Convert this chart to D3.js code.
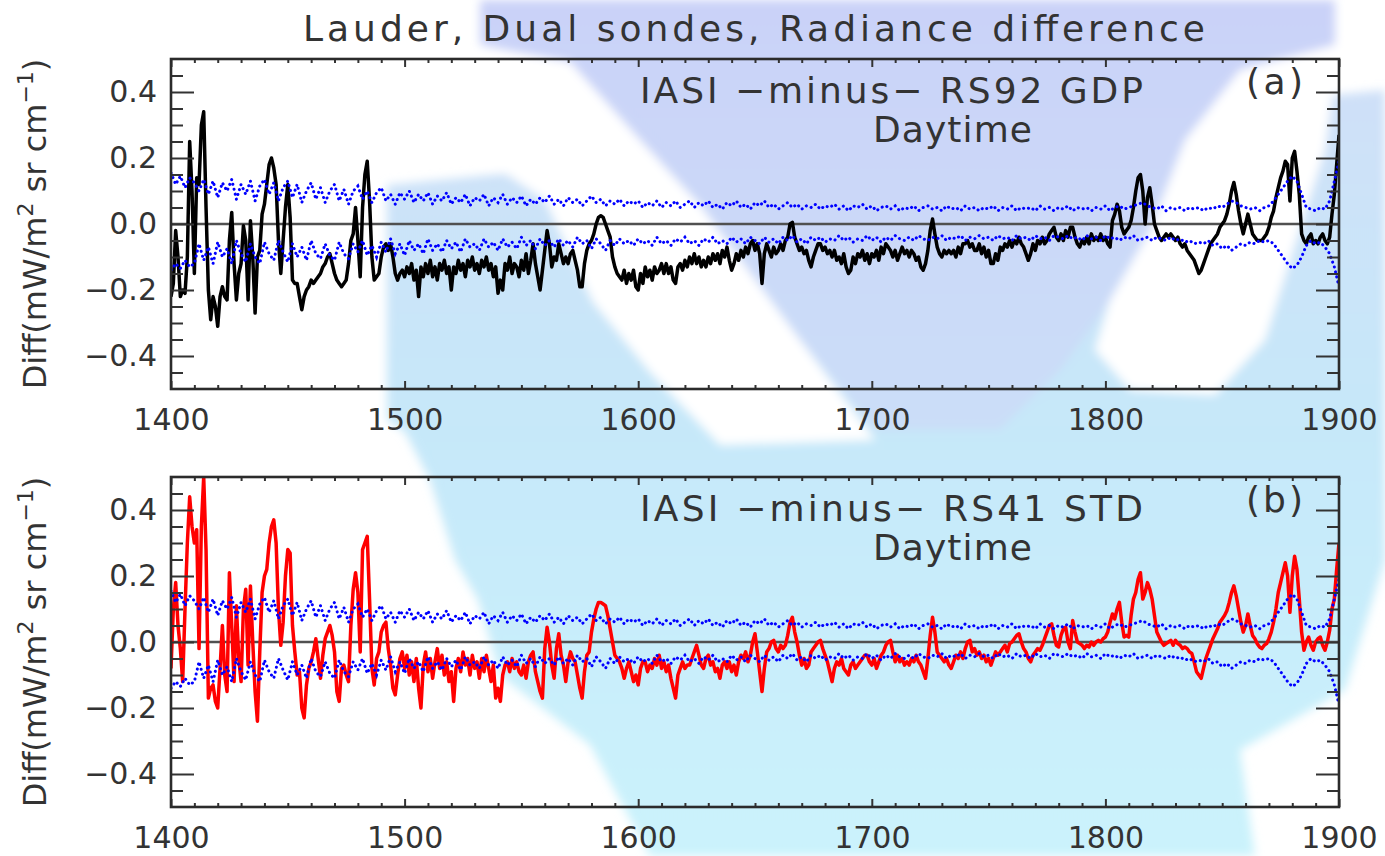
<!DOCTYPE html>
<html>
<head>
<meta charset="utf-8">
<script src="https://cdn.jsdelivr.net/npm/d3@7"></script>
<style>
  body { margin: 0; background: #fff; }
  text { font-family: "DejaVu Sans", sans-serif; fill: #333; }
</style>
</head>
<body>
<div id="chart"></div>
<script>
// wavenumber grid (cm-1): main curves every 1, uncertainty envelope every 2
var wnStart = 1400, wnEnd = 1900;

// (a) IASI minus RS92 GDP, daytime, 1 cm-1 steps from 1400
var diffRS92 = [
  -.22,-.18,-.02,-.10,-.22,-.20,-.21,-.10,.25,.10,
  -.15,.14,.12,.30,.34,.05,-.20,-.29,-.22,-.25,
  -.31,-.22,-.19,-.22,-.23,-.05,.035,-.12,-.23,-.15,
  -.12,-.005,-.05,-.23,.01,-.10,-.27,-.10,-.08,.03,
  .06,.12,.18,.20,.17,.12,-.05,-.15,-.05,.05,
  .12,.02,-.17,-.18,-.18,-.22,-.26,-.22,-.20,-.19,
  -.17,-.18,-.17,-.16,-.15,-.13,-.12,-.10,-.09,-.12,
  -.15,-.17,-.18,-.19,-.18,-.17,-.12,-.05,-.03,.05,
  -.05,-.16,.05,.15,.19,.07,-.10,-.17,-.16,-.15,
  -.10,-.07,-.06,-.08,-.06,-.10,-.15,-.17,-.15,-.14,
  -.16,-.13,-.15,-.12,-.17,-.14,-.22,-.13,-.16,-.12,
  -.15,-.11,-.16,-.13,-.17,-.12,-.14,-.11,-.15,-.13,
  -.20,-.13,-.15,-.11,-.14,-.12,-.16,-.11,-.13,-.10,
  -.14,-.12,-.15,-.11,-.13,-.10,-.14,-.12,-.16,-.13,
  -.21,-.17,-.20,-.12,-.14,-.10,-.15,-.12,-.13,-.16,
  -.11,-.14,-.09,-.15,-.11,-.06,-.12,-.16,-.20,-.14,
  -.08,-.02,-.06,-.13,-.10,-.11,-.06,-.09,-.12,-.10,
  -.12,-.09,-.08,-.11,-.14,-.19,-.19,-.12,-.08,-.06,
  -.05,-.03,.00,.02,.025,.02,.00,-.02,-.04,-.10,
  -.13,-.15,-.16,-.17,-.14,-.18,-.15,-.17,-.14,-.19,
  -.20,-.15,-.18,-.13,-.16,-.14,-.17,-.13,-.15,-.14,
  -.12,-.15,-.12,-.15,-.13,-.17,-.18,-.13,-.12,-.14,
  -.11,-.13,-.10,-.12,-.09,-.12,-.10,-.13,-.11,-.13,
  -.10,-.12,-.09,-.11,-.09,-.12,-.08,-.10,-.07,-.11,
  -.14,-.12,-.09,-.11,-.08,-.10,-.07,-.09,-.06,-.05,
  -.08,-.06,-.09,-.18,-.09,-.06,-.08,-.10,-.07,-.09,
  -.08,-.06,-.08,-.05,-.04,.00,.005,-.04,-.06,-.08,
  -.07,-.09,-.08,-.11,-.13,-.10,-.08,-.06,-.06,-.08,
  -.07,-.09,-.08,-.10,-.08,-.11,-.10,-.12,-.09,-.13,
  -.15,-.14,-.10,-.12,-.09,-.10,-.08,-.11,-.09,-.12,
  -.09,-.10,-.08,-.11,-.07,-.09,-.06,-.07,-.08,-.10,
  -.08,-.11,-.09,-.07,-.09,-.08,-.10,-.08,-.09,-.11,
  -.10,-.13,-.14,-.12,-.08,-.02,.015,-.03,-.07,-.09,
  -.10,-.08,-.09,-.08,-.09,-.08,-.10,-.07,-.09,-.06,
  -.06,-.05,-.07,-.06,-.08,-.08,-.06,-.09,-.07,-.10,
  -.08,-.12,-.12,-.09,-.11,-.07,-.08,-.06,-.07,-.05,
  -.07,-.05,-.06,-.04,-.06,-.07,-.09,-.11,-.09,-.06,
  -.08,-.05,-.06,-.04,-.06,-.05,-.03,-.02,-.01,-.04,
  -.05,-.03,-.05,-.02,-.04,-.01,-.01,-.04,-.06,-.07,
  -.05,-.06,-.04,-.06,-.03,-.05,-.04,-.05,-.03,-.05,
  -.04,-.06,-.07,.01,.03,.06,.04,-.01,-.03,-.02,
  -.01,.01,.05,.10,.14,.15,.10,.00,.08,.11,
  .06,.00,-.02,-.04,-.05,-.04,-.03,-.04,-.03,-.04,
  -.05,-.04,-.06,-.07,-.06,-.08,-.09,-.10,-.11,-.13,
  -.15,-.14,-.12,-.10,-.08,-.06,-.05,-.04,-.03,-.01,
  .00,.01,.03,.06,.10,.126,.09,.04,.00,-.03,
  .00,.03,.00,-.03,-.04,-.05,-.05,-.05,-.04,-.03,
  -.01,.02,.04,.08,.11,.14,.16,.19,.18,.07,
  .20,.22,.16,.09,-.03,-.05,-.06,-.04,-.03,-.06,
  -.05,-.06,-.04,-.03,-.05,-.06,-.04,.03,.09,.18,
  .27
];

// (b) IASI minus RS41 STD, daytime, 1 cm-1 steps from 1400
var diffRS41 = [
  -.08,.10,.18,.05,-.02,-.12,.10,.30,.44,.35,
  .30,.34,-.02,.35,.50,.28,-.17,-.14,-.13,-.18,
  -.20,-.08,.05,-.10,-.15,.21,.05,-.12,.11,-.05,
  -.12,.10,.16,-.07,.17,.00,-.15,-.24,-.03,.15,
  .20,.22,.30,.35,.37,.30,.10,-.01,.06,.20,
  .28,.27,.05,-.03,-.10,-.09,-.20,-.23,-.13,-.08,
  -.06,-.03,.01,-.05,-.11,-.04,.01,.03,.05,.02,
  -.03,-.15,-.18,-.08,-.07,-.10,-.12,.05,.16,.21,
  .15,-.03,.28,.30,.32,.13,-.08,-.13,-.05,-.03,
  .03,.05,.06,-.02,-.07,-.14,-.16,-.10,-.05,-.03,
  -.08,-.04,-.10,-.06,-.12,-.05,-.14,-.20,-.07,-.03,
  -.09,-.05,-.11,-.06,-.02,-.08,-.04,-.10,-.06,-.12,
  -.09,-.18,-.08,-.05,-.09,-.03,-.07,-.05,-.10,-.04,
  -.08,-.06,-.11,-.05,-.09,-.04,-.08,-.12,-.07,-.17,
  -.14,-.18,-.10,-.07,-.06,-.09,-.05,-.08,-.06,-.09,
  -.10,-.07,-.11,-.06,-.04,-.03,-.09,-.12,-.15,-.17,
  -.02,.045,.00,-.07,-.11,-.02,.025,-.04,-.07,-.12,
  -.06,-.03,-.05,-.06,-.10,-.14,-.17,-.09,-.04,-.03,
  .03,.07,.10,.12,.12,.115,.11,.08,.04,.00,
  -.04,-.05,-.06,-.08,-.11,-.08,-.06,-.09,-.12,-.10,
  -.13,-.08,-.06,-.06,-.09,-.07,-.08,-.05,-.07,-.04,
  -.08,-.06,-.09,-.07,-.11,-.14,-.17,-.10,-.08,-.06,
  -.08,-.07,-.07,-.05,-.03,-.01,-.04,-.07,-.08,-.05,
  -.04,-.07,-.06,-.09,-.08,-.11,-.07,-.06,-.08,-.06,
  -.09,-.07,-.10,-.06,-.04,-.05,-.03,-.06,-.04,.00,
  .025,-.03,-.09,-.15,-.08,-.03,-.02,.00,.005,-.02,
  -.03,-.01,-.02,-.01,.02,.06,.075,.03,.00,-.04,
  -.07,-.05,-.08,-.07,-.03,-.02,-.01,.00,.005,-.02,
  -.04,-.06,-.09,-.12,-.08,-.06,-.07,-.05,-.08,-.09,
  -.10,-.07,-.06,-.08,-.07,-.06,-.05,-.04,-.04,-.06,
  -.07,-.05,-.08,-.06,-.04,-.03,-.01,.00,.005,-.03,
  -.06,-.04,-.06,-.05,-.07,-.06,-.07,-.05,-.06,-.04,
  -.06,-.07,-.09,-.11,-.05,.02,.075,.03,-.03,-.04,
  -.05,-.06,-.05,-.07,-.08,-.06,-.04,-.05,-.03,-.05,
  -.02,.00,.005,-.03,-.02,-.04,-.03,-.05,-.04,-.06,
  -.05,-.07,-.05,-.03,-.04,-.03,-.02,-.01,-.03,-.005,
  .00,.01,.02,.025,.00,-.02,-.03,-.05,-.06,-.04,
  -.03,-.02,-.025,-.01,.01,.03,.05,.055,.02,-.01,
  -.015,.02,.04,.045,.00,-.02,.065,.03,.00,-.005,
  -.01,-.02,-.01,-.015,.00,-.01,.00,.005,.00,.01,
  .015,.03,.06,.085,.07,.10,.12,.06,.015,.02,
  .015,.08,.13,.15,.19,.21,.13,.15,.18,.16,
  .13,.08,.03,.015,.00,-.01,-.005,.00,.005,-.01,
  .005,-.005,-.01,-.02,-.015,-.02,-.03,-.035,-.06,-.09,
  -.10,-.11,-.08,-.05,-.03,-.01,.01,.025,.04,.06,
  .07,.08,.095,.12,.15,.17,.14,.10,.06,.03,
  .05,.085,.05,.02,.01,-.005,-.015,-.02,-.01,-.005,
  .01,.03,.06,.10,.15,.18,.21,.24,.20,.09,
  .20,.26,.22,.13,.03,-.025,.00,.015,-.01,-.025,
  .00,.01,.015,-.01,-.025,.00,.035,.10,.13,.22,
  .30
];

// uncertainty envelope (blue dotted), 2 cm-1 steps from 1400
var envUpper = [
  .155,.12,.145,.11,.14,.125,.10,.135,.09,.13,
  .08,.125,.10,.135,.075,.12,.09,.13,.07,.115,
  .135,.09,.125,.07,.11,.13,.08,.12,.065,.10,
  .125,.075,.11,.065,.10,.12,.07,.105,.06,.10,
  .115,.075,.10,.065,.095,.11,.07,.09,.06,.095,
  .075,.10,.065,.09,.07,.095,.06,.085,.07,.095,
  .06,.08,.065,.09,.055,.08,.07,.09,.055,.08,
  .065,.09,.06,.08,.065,.085,.055,.075,.06,.08,
  .065,.085,.06,.075,.055,.08,.065,.075,.055,.07,
  .085,.065,.075,.055,.07,.06,.075,.055,.07,.06,
  .07,.05,.065,.055,.07,.05,.065,.055,.07,.05,
  .06,.07,.05,.065,.055,.07,.05,.06,.045,.065,
  .055,.07,.05,.06,.045,.065,.055,.07,.05,.06,
  .045,.055,.065,.05,.06,.045,.055,.05,.06,.045,
  .055,.05,.06,.045,.055,.04,.055,.05,.06,.045,
  .055,.04,.05,.055,.045,.055,.04,.05,.045,.055,
  .04,.05,.055,.045,.05,.04,.055,.045,.05,.04,
  .055,.045,.05,.04,.05,.045,.055,.04,.05,.045,
  .055,.04,.05,.045,.05,.04,.055,.045,.05,.04,
  .05,.045,.055,.04,.05,.045,.05,.04,.05,.045,
  .055,.04,.05,.055,.045,.05,.055,.06,.065,.055,
  .05,.045,.055,.04,.05,.045,.05,.04,.05,.045,
  .05,.04,.05,.045,.055,.05,.06,.07,.065,.055,
  .05,.045,.05,.04,.05,.055,.07,.09,.11,.13,
  .145,.13,.09,.05,.045,.04,.05,.045,.07,.13,
  .19
];
var envLower = [
  -.14,-.12,-.135,-.11,-.13,-.12,-.06,-.11,-.07,-.12,
  -.055,-.10,-.075,-.12,-.05,-.09,-.115,-.06,-.10,-.12,
  -.055,-.09,-.11,-.05,-.085,-.115,-.06,-.10,-.07,-.11,
  -.05,-.09,-.105,-.06,-.095,-.11,-.055,-.09,-.105,-.06,
  -.085,-.05,-.095,-.065,-.10,-.055,-.085,-.045,-.09,-.06,
  -.095,-.05,-.08,-.06,-.09,-.045,-.08,-.06,-.085,-.05,
  -.075,-.055,-.085,-.045,-.07,-.06,-.08,-.045,-.07,-.055,
  -.08,-.045,-.07,-.055,-.075,-.04,-.065,-.05,-.075,-.045,
  -.065,-.05,-.07,-.045,-.065,-.05,-.07,-.04,-.06,-.05,
  -.075,-.045,-.06,-.08,-.05,-.065,-.045,-.06,-.05,-.065,
  -.045,-.06,-.05,-.065,-.04,-.06,-.05,-.065,-.045,-.055,
  -.04,-.06,-.05,-.065,-.045,-.055,-.04,-.06,-.05,-.06,
  -.04,-.055,-.045,-.06,-.04,-.05,-.06,-.04,-.055,-.045,
  -.06,-.04,-.05,-.035,-.055,-.045,-.06,-.04,-.05,-.04,
  -.055,-.045,-.05,-.035,-.05,-.04,-.055,-.045,-.05,-.035,
  -.05,-.04,-.055,-.04,-.05,-.035,-.045,-.05,-.04,-.05,
  -.035,-.045,-.05,-.04,-.045,-.035,-.05,-.04,-.045,-.035,
  -.05,-.04,-.045,-.035,-.045,-.04,-.05,-.035,-.045,-.04,
  -.05,-.035,-.045,-.04,-.05,-.035,-.045,-.04,-.05,-.035,
  -.04,-.045,-.035,-.045,-.04,-.05,-.035,-.045,-.04,-.05,
  -.035,-.045,-.04,-.05,-.04,-.045,-.035,-.05,-.045,-.04,
  -.05,-.04,-.045,-.05,-.04,-.05,-.045,-.055,-.05,-.06,
  -.055,-.06,-.05,-.065,-.06,-.075,-.065,-.08,-.07,-.06,
  -.065,-.055,-.06,-.05,-.055,-.05,-.06,-.08,-.10,-.12,
  -.135,-.125,-.10,-.065,-.05,-.06,-.055,-.07,-.09,-.13,
  -.19
];

var xTickValues = [1400, 1500, 1600, 1700, 1800, 1900];
var yTickValues = [-0.4, -0.2, 0.0, 0.2, 0.4];

var panels = [
  { key: "a", series: diffRS92, color: "#000000", label: "IASI \u2212minus\u2212 RS92 GDP", top: 59 },
  { key: "b", series: diffRS41, color: "#ff0000", label: "IASI \u2212minus\u2212 RS41 STD", top: 477 }
];

var W = 1385, H = 856;
var left = 171, right = 1339, ph = 330;

var svg = d3.select("#chart").append("svg")
    .attr("width", W)
    .attr("height", H);

var defs = svg.append("defs");
defs.append("filter").attr("id", "soft")
  .append("feGaussianBlur").attr("stdDeviation", 5);

var gLav = defs.append("linearGradient").attr("id", "lav")
    .attr("x1", 0).attr("y1", 0).attr("x2", 0).attr("y2", 1);
gLav.append("stop").attr("offset", "0%").attr("stop-color", "#cad2f8");
gLav.append("stop").attr("offset", "100%").attr("stop-color", "#cbdef8");

var gOut = defs.append("linearGradient").attr("id", "outer")
    .attr("x1", 0).attr("y1", 0).attr("x2", 0).attr("y2", 1);
gOut.append("stop").attr("offset", "0%").attr("stop-color", "#cfe0f8");
gOut.append("stop").attr("offset", "45%").attr("stop-color", "#c6e8f9");
gOut.append("stop").attr("offset", "100%").attr("stop-color", "#cbf3fc");

// washed-out background blotch behind the plots
var bg = svg.append("g").attr("filter", "url(#soft)");
bg.append("path").attr("fill", "url(#outer)")
  .attr("d", "M387,185 L1385,90 L1385,560 L1345,690 L1240,750 L1255,856 L650,856 L590,745 L500,675 L478,600 L455,560 L430,480 L405,432 L387,420 Z");
bg.append("path").attr("fill", "#fff")
  .attr("d", "M470,60 L570,62 L640,140 L700,205 L800,340 L875,440 L720,445 L650,372 L593,302 L545,200 L470,150 Z");
bg.append("path").attr("fill", "#fff")
  .attr("d", "M1240,70 L1340,40 L1325,150 L1290,260 L1265,340 L1215,395 L1130,390 L1095,350 L1110,300 L1150,230 L1185,140 Z");
bg.append("path").attr("fill", "url(#lav)")
  .attr("d", "M480,0 L1335,0 L1335,45 L1240,70 L1185,140 L1150,230 L1110,300 L1060,370 L1000,430 L875,430 L800,340 L700,205 L640,140 L570,62 L480,45 Z");

var x = d3.scaleLinear().domain([wnStart, wnEnd]).range([left, right]);

svg.append("text")
    .attr("x", 303).attr("y", 41)
    .attr("font-size", 36)
    .attr("textLength", 902)
    .attr("lengthAdjust", "spacing")
    .text("Lauder, Dual sondes, Radiance difference");

panels.forEach(function(p) {
    var top = p.top, bottom = p.top + ph;
    var y = d3.scaleLinear().domain([-0.5, 0.5]).range([bottom, top]);
    var g = svg.append("g");

    g.append("clipPath").attr("id", "clip" + p.key)
      .append("rect").attr("x", left).attr("y", top).attr("width", right - left).attr("height", ph);

    // zero line
    g.append("line")
        .attr("x1", left).attr("x2", right)
        .attr("y1", y(0)).attr("y2", y(0))
        .attr("stroke", "#505050").attr("stroke-width", 2.6);

    var line = d3.line()
        .x(function(d, i) { return x(wnStart + i); })
        .y(function(d) { return y(d); });

    g.append("path")
        .datum(p.series)
        .attr("clip-path", "url(#clip" + p.key + ")")
        .attr("fill", "none")
        .attr("stroke", p.color)
        .attr("stroke-width", 3.5)
        .attr("stroke-linejoin", "round")
        .attr("d", line);

    var envLine = d3.line()
        .x(function(d, i) { return x(wnStart + 2 * i); })
        .y(function(d) { return y(d); });

    [envUpper, envLower].forEach(function(env) {
        g.append("path")
            .datum(env)
            .attr("clip-path", "url(#clip" + p.key + ")")
            .attr("fill", "none")
            .attr("stroke", "#0000ff")
            .attr("stroke-width", 3)
            .attr("stroke-linecap", "round")
            .attr("stroke-dasharray", "0.1 5")
            .attr("d", envLine);
    });

    // axes, ticks pointing inwards (IDL style)
    var yMinor = d3.range(-0.45, 0.46, 0.05).filter(function(v) { return Math.abs(Math.round(v * 100) % 20) !== 0; });
    var xMinor = d3.range(1410, 1900, 10).filter(function(v) { return v % 100 !== 0; });

    g.append("g").attr("transform", "translate(" + left + ",0)")
        .call(d3.axisLeft(y).tickValues(yTickValues).tickSize(-23).tickPadding(14).tickFormat(d3.format(".1f")));
    g.append("g").attr("transform", "translate(" + left + ",0)")
        .call(d3.axisLeft(y).tickValues(yMinor).tickSize(-12).tickFormat(""));
    g.append("g").attr("transform", "translate(" + right + ",0)")
        .call(d3.axisRight(y).tickValues(yTickValues).tickSize(-23).tickFormat(""));
    g.append("g").attr("transform", "translate(" + right + ",0)")
        .call(d3.axisRight(y).tickValues(yMinor).tickSize(-12).tickFormat(""));
    g.append("g").attr("transform", "translate(0," + bottom + ")")
        .call(d3.axisBottom(x).tickValues(xTickValues).tickSize(-8).tickPadding(20).tickFormat(d3.format("d")));
    g.append("g").attr("transform", "translate(0," + bottom + ")")
        .call(d3.axisBottom(x).tickValues(xMinor).tickSize(-4).tickFormat(""));
    g.append("g").attr("transform", "translate(0," + top + ")")
        .call(d3.axisTop(x).tickValues(xTickValues).tickSize(-8).tickFormat(""));
    g.append("g").attr("transform", "translate(0," + top + ")")
        .call(d3.axisTop(x).tickValues(xMinor).tickSize(-4).tickFormat(""));

    g.selectAll(".domain").remove();
    g.selectAll(".tick line").attr("stroke", "#333").attr("stroke-width", 2);
    g.selectAll(".tick text")
        .attr("font-family", "DejaVu Sans, sans-serif")
        .attr("font-size", 30)
        .attr("fill", "#333");

    g.append("rect")
        .attr("x", left).attr("y", top)
        .attr("width", right - left).attr("height", ph)
        .attr("fill", "none")
        .attr("stroke", "#2b2b2b")
        .attr("stroke-width", 2.6);

    // y axis title
    var yt = g.append("text")
        .attr("transform", "translate(46," + (top + ph / 2) + ") rotate(-90)")
        .attr("text-anchor", "middle")
        .attr("font-size", 32);
    yt.append("tspan").text("Diff(mW/m");
    yt.append("tspan").attr("dy", -13).attr("font-size", 22).text("2");
    yt.append("tspan").attr("dy", 13).text(" sr cm");
    yt.append("tspan").attr("dy", -13).attr("font-size", 22).text("\u22121");
    yt.append("tspan").attr("dy", 13).text(")");

    // panel captions
    g.append("text")
        .attr("x", 640).attr("y", top + 43.5)
        .attr("font-size", 36)
        .attr("textLength", 503)
        .attr("lengthAdjust", "spacing")
        .text(p.label);
    g.append("text")
        .attr("x", 873).attr("y", top + 83)
        .attr("font-size", 36)
        .attr("textLength", 159)
        .attr("lengthAdjust", "spacing")
        .text("Daytime");
    g.append("text")
        .attr("x", 1246).attr("y", top + 35)
        .attr("font-size", 36)
        .attr("textLength", 57)
        .attr("lengthAdjust", "spacing")
        .text("(" + p.key + ")");
});
</script>
</body>
</html>
